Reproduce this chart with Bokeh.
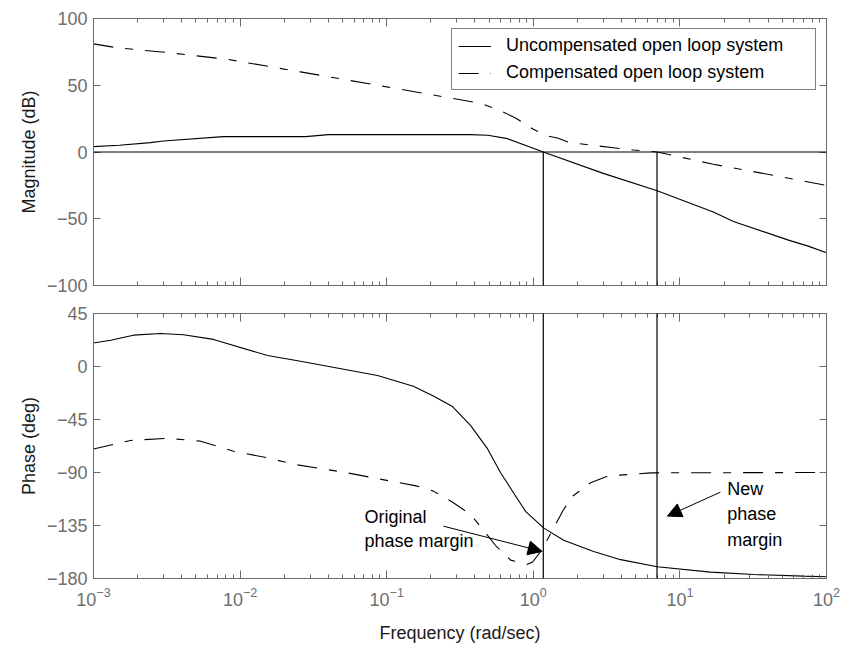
from bokeh.plotting import figure
from bokeh.layouts import column
from bokeh.models import (LogAxis, LinearAxis, FixedTicker, Span, Arrow, NormalHead,
                          Label, Legend, LegendItem, LogTickFormatter, Range1d,
                          CustomJSTickFormatter)
from bokeh.embed import file_html
from bokeh.resources import INLINE

# ---------------- data ----------------
freq_mag_unc = [0.001, 0.0015, 0.00245, 0.003, 0.0077, 0.028, 0.04, 0.37, 0.49, 0.667,
                1.17, 3.0, 7.0, 16.9, 23.2, 55.0, 75.0, 100.0]
mag_unc = [4, 5, 7, 8.2, 11.5, 11.5, 13, 13, 12.5, 10,
           0, -16, -29, -45, -52, -66, -70.5, -75.5]

freq_mag_comp = [0.001, 0.00146, 0.0032, 0.0082, 0.0258, 0.124, 0.304, 0.437, 0.597, 0.757,
                 1.0, 1.25, 1.46, 1.78, 2.55, 3.52, 4.79, 7.0, 16.9, 43.5, 100.0]
mag_comp = [81, 78, 74.5, 69.4, 60, 47, 39.5, 36.5, 31, 25.5,
            17, 12, 10.5, 7, 5, 3.2, 1.5, 0, -9.2, -17.5, -25]

freq_ph_unc = [0.001, 0.00131, 0.00187, 0.00286, 0.00411, 0.00658, 0.0154, 0.0258, 0.0865,
               0.152, 0.208, 0.281, 0.373, 0.488, 0.597, 0.885, 1.175, 1.61, 2.58, 3.94,
               7.0, 16.2, 31.8, 69.7, 100.0]
phase_unc = [20, 22.3, 26.6, 28, 27, 23, 9.3, 4.5, -7.6,
             -16.7, -25, -34, -50, -70, -90, -123, -137, -147.5, -157, -164,
             -170, -174.6, -176.6, -178, -178.5]

freq_ph_comp = [0.001, 0.00179, 0.0032, 0.00537, 0.00902, 0.0154, 0.0231, 0.0507, 0.162,
                0.208, 0.28, 0.373, 0.437, 0.553, 0.70, 0.911, 0.99, 1.15, 1.35, 1.61,
                1.86, 2.46, 3.21, 6.31, 100.0]
phase_comp = [-70, -62.8, -61, -63.4, -72, -77.5, -83, -89.7, -101.6,
              -105.8, -115, -125.6, -136, -152, -164.4, -168, -166, -155.3, -139, -121.4,
              -110, -98.7, -93, -90.3, -90]

crossover_unc = 1.17
crossover_comp = 6.98

x_ticks = [1e-3, 1e-2, 1e-1, 1.0, 10.0, 100.0]
mag_ticks = [-100, -50, 0, 50, 100]
phase_ticks = [-180, -135, -90, -45, 0, 45]
legend_labels = ["Uncompensated open loop system", "Compensated open loop system"]

# ---------------- style ----------------
FONT = "Liberation Sans"
FRAME = "#6b6b6b"
TICKLAB = "#6e6e6e"
LAB = "#1a1a1a"
DASH = "20 12 8 12"
LW = 1.1

minor_x = [m * d for d in x_ticks[:-1] for m in range(2, 10)]


def blank(ax):
    ax.formatter = CustomJSTickFormatter(code="return ''")
    ax.major_label_text_font_size = "1px"
    ax.major_label_standoff = 0
    ax.axis_label_standoff = 0


def make_fig(height, y_lo, y_hi, yticks, ylabel, border_top, border_bottom, show_x):
    p = figure(width=843, height=height, x_axis_type="log",
               x_range=Range1d(1e-3, 1e2), y_range=Range1d(y_lo, y_hi),
               output_backend="svg", toolbar_location=None,
               min_border_left=93, min_border_right=17,
               min_border_top=border_top, min_border_bottom=border_bottom)
    p.xgrid.visible = False
    p.ygrid.visible = False
    p.outline_line_color = FRAME
    p.background_fill_color = "white"
    p.add_layout(LogAxis(), "above")
    p.add_layout(LinearAxis(), "right")
    for ax in p.axis:
        ax.axis_line_color = FRAME
        ax.major_tick_line_color = FRAME
        ax.minor_tick_line_color = FRAME
        ax.major_label_text_font = FONT
        ax.major_label_text_font_size = "18px"
        ax.major_label_text_color = TICKLAB
        ax.axis_label_text_font = FONT
        ax.axis_label_text_font_size = "18px"
        ax.axis_label_text_font_style = "normal"
        ax.axis_label_text_color = LAB
    for ax in p.xaxis:
        ax.ticker = FixedTicker(ticks=x_ticks, minor_ticks=minor_x)
        ax.major_tick_in = 8
        ax.major_tick_out = 0
        ax.minor_tick_in = 4
        ax.minor_tick_out = 0
    for ax in p.yaxis:
        ax.ticker = FixedTicker(ticks=yticks)
        ax.major_tick_in = 7
        ax.major_tick_out = 0
        ax.minor_tick_in = 0
        ax.minor_tick_out = 0
    blank(p.above[0])
    blank(p.right[0])
    left = p.left[0]
    left.major_label_standoff = 6
    left.axis_label = ylabel
    left.axis_label_standoff = 5
    below = p.below[0]
    if show_x:
        below.formatter = LogTickFormatter()
        below.major_label_standoff = 8
        below.axis_label = "Frequency (rad/sec)"
        below.axis_label_standoff = 14
    else:
        blank(below)
    return p


# ---------------- magnitude panel ----------------
p1 = make_fig(299, -100, 100, mag_ticks, "Magnitude (dB)", 18, 14, False)
r_unc = p1.line(freq_mag_unc, mag_unc, line_color="black", line_width=LW)
r_comp = p1.line(freq_mag_comp, mag_comp, line_color="black", line_width=LW, line_dash=DASH)
p1.add_layout(Span(location=0, dimension="width", line_color="black", line_width=1.2))
for xc in (crossover_unc, crossover_comp):
    p1.add_layout(Arrow(end=None, x_start=xc, y_start=0, x_end=xc, y_end=-115,
                        line_color="black", line_width=1.2))

legend = Legend(items=[LegendItem(label=legend_labels[0], renderers=[r_unc]),
                       LegendItem(label=legend_labels[1], renderers=[r_comp])],
                location="top_right", margin=10, padding=6, spacing=6,
                glyph_width=33, glyph_height=20, label_height=20, label_width=303,
                label_standoff=15, border_line_color="black", border_line_width=1,
                background_fill_color="white", background_fill_alpha=1.0,
                label_text_font=FONT, label_text_font_size="18px", label_text_color="black")
p1.add_layout(legend)

# ---------------- phase panel ----------------
p2 = make_fig(349, -180, 45, phase_ticks, "Phase (deg)", 14, 70, True)
p2.line(freq_ph_unc, phase_unc, line_color="black", line_width=LW)
p2.line(freq_ph_comp, phase_comp, line_color="black", line_width=LW, line_dash=DASH)
for xc in (crossover_unc, crossover_comp):
    p2.add_layout(Arrow(end=None, x_start=xc, y_start=60, x_end=xc, y_end=-180,
                        line_color="black", line_width=1.2))

p2.add_layout(Arrow(end=NormalHead(size=14, fill_color="black", line_color="black"),
                    x_start=0.244, y_start=-135.6, x_end=1.15, y_end=-157,
                    line_color="black", line_width=1))
p2.add_layout(Arrow(end=NormalHead(size=14, fill_color="black", line_color="black"),
                    x_start=18.9, y_start=-106.7, x_end=8.22, y_end=-127,
                    line_color="black", line_width=1))

for txt, xx, yy in [("Original", 0.0705, -128.2), ("phase margin", 0.0705, -148.3),
                    ("New", 21.0, -104.4), ("phase", 21.0, -125.6), ("margin", 21.0, -146.9)]:
    p2.add_layout(Label(x=xx, y=yy, text=txt, text_baseline="middle", text_align="left",
                        text_font=FONT, text_font_size="18px", text_color="black"))

layout = column(p1, p2, spacing=0)
open("out.html", "w").write(file_html(layout, INLINE))
